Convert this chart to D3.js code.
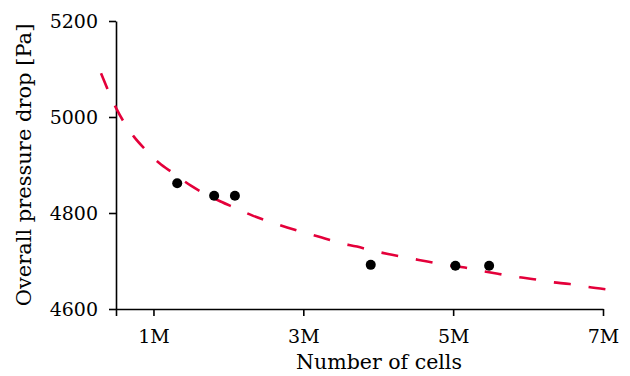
<!DOCTYPE html>
<html>
<head>
<meta charset="utf-8">
<script src="https://cdn.jsdelivr.net/npm/d3@7"></script>
<style>
  body { margin: 0; background: #fff; }
  svg { display: block; }
  text { font-family: "DejaVu Serif", serif; }
</style>
</head>
<body>
<svg id="chart"></svg>
<script>
// measured points
const cells = [1.317e6, 1.81e6, 2.087e6, 3.9e6, 5.03e6, 5.48e6]
const pressure = [4862, 4836, 4836, 4692, 4690, 4690]

// fitted curve
const fitCells = [0.3e6, 0.5e6, 0.744e6, 0.887e6, 1.077e6, 1.264e6, 1.5e6, 1.896e6, 2.1e6, 2.331e6,
  2.553e6, 2.784e6, 3.011e6, 3.247e6, 3.477e6, 3.717e6, 3.94e6, 4.184e6, 4.411e6, 4.656e6,
  4.887e6, 5.131e6, 5.357e6, 5.611e6, 5.843e6, 6.077e6, 6.313e6, 6.557e6, 6.797e6, 7.043e6]
const fitPressure = [5091, 5019, 4958, 4933, 4904, 4883, 4857, 4824, 4810, 4794,
  4782, 4770, 4759, 4749, 4738, 4730, 4721, 4713, 4706, 4699,
  4692, 4687, 4680, 4673, 4667, 4662, 4656, 4652, 4646, 4641]

const xTicks = [0.5e6, 1e6, 3e6, 5e6, 7e6]
const yTicks = [4600, 4800, 5000, 5200]

const width = 630
const height = 376
const margin = {top: 21, right: 27, bottom: 67, left: 116}

const svg = d3.select('svg#chart')
  .attr('width', width)
  .attr('height', height)
  .attr('viewBox', `0 0 ${width} ${height}`)

const x = d3.scaleLinear()
  .domain([0.5e6, 7e6])
  .range([margin.left, width - margin.right])

const y = d3.scaleLinear()
  .domain([4600, 5200])
  .range([height - margin.bottom, margin.top])

const xAxis = g => g
  .attr('transform', `translate(0,${height - margin.bottom})`)
  .call(d3.axisBottom(x)
    .tickValues(xTicks)
    .tickFormat(d => d === 0.5e6 ? '' : (d / 1e6) + 'M')
    .tickSize(7)
    .tickPadding(14)
    .tickSizeOuter(0))

const yAxis = g => g
  .attr('transform', `translate(${margin.left},0)`)
  .call(d3.axisLeft(y)
    .tickValues(yTicks)
    .tickFormat(d3.format('d'))
    .tickSize(7)
    .tickPadding(11)
    .tickSizeOuter(0))

svg.append('g').call(xAxis)
svg.append('g').call(yAxis)

svg.selectAll('.tick text')
  .attr('font-family', '"DejaVu Serif", serif')
  .attr('font-size', 19)
  .attr('fill', '#000')
svg.selectAll('.domain, .tick line')
  .attr('stroke', '#000')
  .attr('stroke-width', 1.6)

const fit = fitCells.map((c, i) => [c, fitPressure[i]])

svg.append('path')
  .datum(fit)
  .attr('fill', 'none')
  .attr('stroke', '#e4003a')
  .attr('stroke-width', 2.6)
  .attr('stroke-dasharray', '17,18')
  .attr('d', d3.line()
    .x(d => x(d[0]))
    .y(d => y(d[1]))
    .curve(d3.curveMonotoneX))

svg.append('g')
  .selectAll('circle')
  .data(cells)
  .join('circle')
    .attr('cx', d => x(d))
    .attr('cy', (d, i) => y(pressure[i]))
    .attr('r', 5)
    .attr('fill', '#000')

svg.append('text')
  .attr('x', 379)
  .attr('y', 369)
  .attr('text-anchor', 'middle')
  .attr('font-size', 20.5)
  .text('Number of cells')

svg.append('text')
  .attr('transform', `translate(31,${(margin.top + height - margin.bottom) / 2}) rotate(-90)`)
  .attr('text-anchor', 'middle')
  .attr('font-size', 21)
  .text('Overall pressure drop [Pa]')
</script>
</body>
</html>
